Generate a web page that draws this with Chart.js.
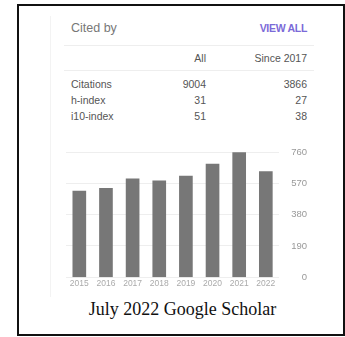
<!DOCTYPE html>
<html>
<head>
<meta charset="utf-8">
<script src="https://cdn.jsdelivr.net/npm/chart.js@4"></script>
<style>
  body { margin: 0; background: #fff; width: 345px; height: 337px; overflow: hidden; position: relative; font-family: "Liberation Sans", Arial, sans-serif; }
  #frame { position: absolute; left: 17px; top: 4px; width: 324px; height: 328px; border: 2px solid #111; }
  #sideline { position: absolute; left: 50px; top: 16px; width: 1px; height: 281px; background: #f3f3f3; }
  .t { position: absolute; white-space: nowrap; line-height: 1; color: #555; font-size: 10.5px; }
  .hr { position: absolute; left: 64px; width: 250px; height: 1px; background: #eee; }
  #chartBox { position: absolute; left: 60px; top: 140px; width: 247px; height: 150px; }
  #caption { position: absolute; left: 0; width: 365px; top: 299px; text-align: center; font-family: "Liberation Serif", "Times New Roman", serif; font-size: 18px; color: #111; }
</style>
</head>
<body>
<div id="frame"></div>
<div id="sideline"></div>

<div class="t" style="left:71px; top:22px; font-size:12.5px; color:#777;">Cited by</div>
<div class="t" style="right:38px; top:23px; font-size:10.5px; color:#7b6ad8; font-weight:bold; letter-spacing:-0.3px;">VIEW ALL</div>
<div class="hr" style="top:45px;"></div>
<div class="t" style="right:139px; top:53px;">All</div>
<div class="t" style="right:38px; top:53px;">Since 2017</div>
<div class="hr" style="top:70px;"></div>
<div id="stats"></div>

<div id="chartBox"><canvas id="myChart"></canvas></div>
<div id="caption">July 2022 Google Scholar</div>

<script>
// citation summary
var metrics = ["Citations", "h-index", "i10-index"];
var allValues = [9004, 31, 51];
var sinceValues = [3866, 27, 38];

// citations per year
var years = ["2015", "2016", "2017", "2018", "2019", "2020", "2021", "2022"];
var citations = [523, 539, 597, 585, 614, 687, 756, 641];
var yTicks = [0, 190, 380, 570, 760];

function fillStats() {
  var box = document.getElementById("stats");
  var html = "";
  for (var i = 0; i < metrics.length; i++) {
    var y = 79 + i * 16;
    html += '<div class="t" style="left:71px; top:' + y + 'px;">' + metrics[i] + '</div>';
    html += '<div class="t" style="right:139px; top:' + y + 'px;">' + allValues[i] + '</div>';
    html += '<div class="t" style="right:38px; top:' + y + 'px;">' + sinceValues[i] + '</div>';
  }
  box.innerHTML = html;
}

function barChart() {
  new Chart("myChart", {
    type: "bar",
    data: {
      labels: years,
      datasets: [{
        data: citations,
        backgroundColor: "#777777",
        borderWidth: 0,
        barThickness: 13
      }]
    },
    options: {
      responsive: true,
      maintainAspectRatio: false,
      animation: false,
      layout: { padding: { left: 6, top: 12, right: 0, bottom: 0.5 } },
      plugins: { legend: { display: false }, tooltip: { enabled: false } },
      scales: {
        x: {
          grid: { display: false, drawTicks: false },
          border: { display: false },
          ticks: {
            color: "#aaa",
            font: { family: "Liberation Sans", size: 8.5 },
            padding: 1,
            maxRotation: 0,
            autoSkip: false
          }
        },
        y: {
          position: "right",
          min: yTicks[0],
          max: yTicks[yTicks.length - 1],
          afterBuildTicks: function(axis) {
            axis.ticks = yTicks.map(function(v) { return { value: v }; });
          },
          grid: { color: "#eeeeee", drawTicks: false },
          border: { display: false },
          ticks: {
            color: "#999",
            font: { family: "Liberation Sans", size: 9.5 },
            padding: 6,
            crossAlign: "far"
          }
        }
      }
    }
  });
}

window.onload = function() {
  fillStats();
  barChart();
};
</script>
</body>
</html>
